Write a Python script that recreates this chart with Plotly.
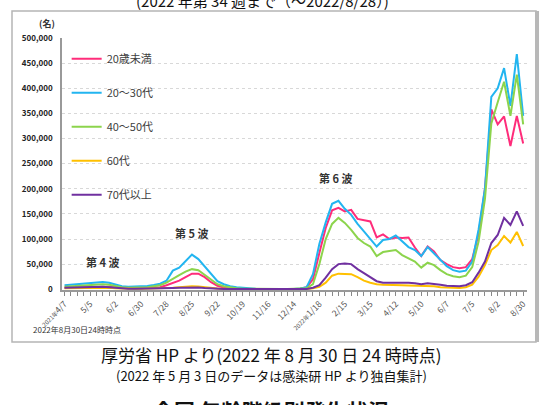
import plotly.graph_objects as go

# weekly points, 2021/4/7 .. 2022/8/30 (73 weeks)
tick_labels = ["<span style='font-size:6px'>2021年</span>4/7", "5/5", "6/2", "6/30", "7/28", "8/25",
               "9/22", "10/19", "11/16", "12/14", "<span style='font-size:6px'>2022年</span>1/18",
               "2/15", "3/15", "4/12", "5/10", "6/7", "7/5", "8/2", "8/30"]

under20 = [3000, 3500, 4000, 4500, 5000, 5500, 5500, 5000, 3500, 2500, 2000, 2000, 2000, 2500, 3000,
           4000, 8000, 13000, 17000, 24000, 31000, 31000, 24000, 14000, 7000, 3500, 2000, 1200, 800, 500,
           400, 300, 300, 300, 300, 300,
           400, 800, 4000, 20000, 72000, 122000, 157000, 162000, 155000, 158000, 140000, 137000, 135000,
           103000, 109000, 100000, 103000, 102000, 103000, 83000, 66000, 85000, 75000, 58000, 50000,
           44000, 42000, 44000, 60000, 110000, 200000, 358000, 328000, 344000, 285000, 345000, 290000]

age20_30 = [8000, 9000, 10000, 11000, 12500, 14000, 14500, 13000, 9000, 6000, 5000, 5000, 5500, 6500, 8500,
            11000, 17000, 37000, 43000, 56000, 69000, 60000, 45000, 30000, 16000, 10000, 6000, 4000, 2500, 1500,
            1000, 700, 500, 400, 400, 500,
            700, 1500, 4000, 30000, 90000, 133000, 170000, 176000, 160000, 148000, 130000, 115000, 100000,
            85000, 98000, 100000, 107000, 95000, 84000, 78000, 66000, 84000, 72000, 58000, 46000,
            38000, 35000, 37000, 55000, 119000, 200000, 383000, 400000, 440000, 365000, 468000, 345000]

age40_50 = [5000, 6000, 7000, 8000, 9000, 10000, 10000, 9000, 6000, 4000, 3000, 3000, 3000, 4000, 6000,
            8000, 13000, 21000, 28000, 35000, 40000, 38000, 29000, 19000, 10000, 6000, 3500, 2000, 1200, 800,
            500, 400, 300, 300, 300, 300,
            400, 700, 2000, 10000, 50000, 100000, 130000, 142000, 132000, 118000, 102000, 92000, 85000,
            66000, 74000, 76000, 78000, 68000, 62000, 55000, 43000, 53000, 48000, 38000, 30000,
            26000, 24000, 27000, 44000, 95000, 180000, 330000, 372000, 413000, 345000, 427000, 328000]

age60 = [2000, 2200, 2500, 2800, 3000, 3200, 3200, 3000, 2200, 1500, 1200, 1200, 1200, 1300, 1500,
         1800, 2200, 3000, 4000, 5000, 6000, 5500, 4000, 2500, 1500, 1000, 700, 500, 400, 300,
         200, 200, 200, 200, 200, 200,
         200, 300, 500, 2000, 5000, 13000, 27000, 31000, 31000, 30000, 24000, 17000, 13000,
         10000, 9000, 9000, 8500, 8000, 7500, 7000, 6000, 7000, 6000, 4000, 3000,
         2500, 2500, 4000, 9000, 25000, 48000, 78000, 88000, 106000, 93000, 114000, 86000]

age70plus = [3000, 3500, 4000, 4500, 5000, 5000, 4800, 4000, 2500, 1500, 1000, 1000, 1000, 1000, 1000,
             1500, 2000, 2500, 3000, 3500, 4000, 3500, 2500, 1500, 1000, 700, 500, 400, 300, 200,
             200, 200, 200, 200, 200, 200,
             200, 300, 500, 3000, 8000, 23000, 40000, 50000, 51000, 50000, 40000, 32000, 24000,
             16000, 13000, 13000, 14000, 14000, 13000, 12000, 10000, 12000, 11000, 9000, 7000,
             6000, 6000, 8000, 14000, 33000, 55000, 92000, 108000, 142000, 128000, 155000, 126000]

series_names = ["20歳未満", "20～30代", "40～50代", "60代", "70代以上"]
series_vals = [under20, age20_30, age40_50, age60, age70plus]
colors = ["#FF2C7A", "#22B5F0", "#8CD44C", "#FFC000", "#7030A0"]

wave_labels = ["第 4 波", "第 5 波", "第 6 波"]
wave_x = [6, 20, 42.5]
wave_y = [54000, 111000, 222000]

JP = "Noto Sans CJK JP"
n = len(under20)
xs = list(range(n))

fig = go.Figure()
for i, (name, vals, col) in enumerate(zip(series_names, series_vals, colors)):
    fig.add_trace(go.Scatter(x=xs, y=vals, mode="lines", name=name,
                             line=dict(color=col, width=2), legendgroup=str(i)))

tickvals = xs
ticktext = [""] * n
for k, lab in enumerate(tick_labels):
    ticktext[k * 4] = lab

L, R, T, B = 62, 15, 38, 115
W, H = 542, 405
pw, ph = W - L - R, H - T - B


def px(xp):
    return (xp - L) / pw


def py(yp):
    return (H - B - yp) / ph


fig.update_layout(
    width=W, height=H,
    margin=dict(l=L, r=R, t=T, b=B),
    paper_bgcolor="white", plot_bgcolor="white",
    font=dict(family=JP, color="#333"),
    showlegend=True,
    legend=dict(x=0.01, y=0.975, xanchor="left", yanchor="top",
                font=dict(family=JP, size=11, color="#404040"),
                tracegroupgap=15, bgcolor="rgba(0,0,0,0)", itemwidth=30),
    xaxis=dict(range=[-0.4, 72.6], tickmode="array", tickvals=tickvals, ticktext=ticktext,
               tickangle=-45, tickfont=dict(family=JP, size=8.5, color="#555"),
               ticks="outside", ticklen=4, tickcolor="#888", showgrid=False,
               showline=True, linecolor="#999", linewidth=1.5, zeroline=False),
    yaxis=dict(range=[-1500, 500000], tickvals=list(range(0, 500001, 50000)), tickformat=",",
               tickfont=dict(family=JP, size=8, color="#222", weight="bold"),
               showgrid=True, gridcolor="#d8d8d8", griddash="dot", gridwidth=1,
               showline=True, linecolor="#999", linewidth=1.5, zeroline=False, ticks="",
               ticklabelstandoff=6),
)

for lab, x, y in zip(wave_labels, wave_x, wave_y):
    fig.add_annotation(x=x, y=y, text=lab, showarrow=False,
                       font=dict(family=JP, size=11, color="#333", weight="bold"))

ann = [
    ("(名)", px(47), py(24), 9, "bold", "#333"),
    ("2022年8月30日24時時点", px(77), py(330), 8, "normal", "#333"),
    ("(2022 年第 34 週まで（～2022/8/28）)", px(262), py(0), 15, "normal", "#111"),
    ("厚労省 HP より(2022 年 8 月 30 日 24 時時点)", px(271), py(354), 17, "normal", "#111"),
    ("(2022 年 5 月 3 日のデータは感染研 HP より独自集計)", px(271), py(375), 13, "normal", "#111"),
    ("全国 年齢階級別発生状況", px(271), py(410), 21, "bold", "#111"),
]
for text, x, y, size, weight, col in ann:
    fig.add_annotation(xref="paper", yref="paper", x=x, y=y, text=text, showarrow=False,
                       xanchor="center", yanchor="middle",
                       font=dict(family=JP, size=size, color=col, weight=weight))

# outer frame
fig.add_shape(type="rect", xref="paper", yref="paper", x0=px(12), x1=px(536), y0=py(342), y1=py(11),
              line=dict(color="#b5b5b5", width=1.5), layer="below")
fig.add_shape(type="rect", xref="paper", yref="paper", x0=px(535), x1=px(539), y0=py(342), y1=py(11),
              line=dict(width=0), fillcolor="#b8b8b8", layer="below")

fig.write_html("out.html", config={"displayModeBar": False},
               post_script="document.body.style.margin='0px';")
